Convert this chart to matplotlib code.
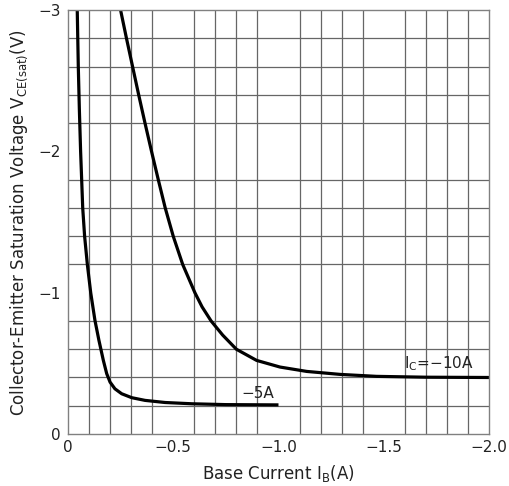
import matplotlib.pyplot as plt
import numpy as np

plt.rcParams['font.family'] = ['DejaVu Sans']
plt.rcParams['mathtext.fontset'] = 'dejavusans'

# Ic = -5A curve (base current A, Vce(sat) V)
ib_5a = [-0.044, -0.049, -0.054, -0.060, -0.070, -0.079, -0.092, -0.108, -0.128,
         -0.147, -0.168, -0.184, -0.200, -0.223, -0.255, -0.303, -0.366,
         -0.461, -0.588, -0.75, -1.0]
vce_5a = [-3.0, -2.6, -2.3, -2.0, -1.6, -1.4, -1.2, -1.0, -0.805,
          -0.663, -0.521, -0.427, -0.367, -0.320, -0.285, -0.257, -0.238,
          -0.223, -0.214, -0.208, -0.206]

# Ic = -10A curve
ib_10a = [-0.250, -0.278, -0.307, -0.336, -0.366, -0.397, -0.429, -0.462,
          -0.500, -0.545, -0.603, -0.637, -0.680, -0.735, -0.800, -0.896,
          -1.007, -1.134, -1.292, -1.466, -1.70, -2.0]
vce_10a = [-3.0, -2.8, -2.6, -2.4, -2.2, -2.0, -1.8, -1.6,
           -1.4, -1.2, -1.0, -0.9, -0.8, -0.7, -0.6, -0.521,
           -0.474, -0.443, -0.422, -0.408, -0.402, -0.400]

x_ticks = [0, -0.5, -1.0, -1.5, -2.0]
x_labels = ["0", "\u22120.5", "\u22121.0", "\u22121.5", "\u22122.0"]
y_ticks = [0, -1, -2, -3]
y_labels = ["0", "\u22121", "\u22122", "\u22123"]

fig = plt.figure(figsize=(5.1, 4.86), dpi=100)
ax = fig.add_axes([0.1333, 0.107, 0.8255, 0.872])

ax.set_xlim(0, -2.0)
ax.set_ylim(0, -3)

# grid every 0.1 A / 0.2 V
ax.set_xticks(np.arange(0, -2.01, -0.1), minor=True)
ax.set_yticks(np.arange(0, -3.01, -0.2), minor=True)
ax.grid(which='minor', color='#666666', linewidth=0.9)
ax.set_axisbelow(True)

ax.set_xticks(x_ticks)
ax.set_xticklabels(x_labels)
ax.set_yticks(y_ticks)
ax.set_yticklabels(y_labels)
ax.tick_params(which='both', length=0, labelsize=11, labelcolor='#222222')
ax.tick_params(axis='x', pad=4)
ax.tick_params(axis='y', pad=5)

for s in ax.spines.values():
    s.set_color('#808080')
    s.set_linewidth(1.0)

ax.plot(ib_5a, vce_5a, color='black', linewidth=2.3, solid_capstyle='butt')
ax.plot(ib_10a, vce_10a, color='black', linewidth=2.3, solid_capstyle='butt')

ax.text(-0.90, -0.29, "\u22125A", fontsize=11, ha='center', va='center', color='#222222')
ax.text(-1.76, -0.50, "I$_{\\mathrm{C}}$=\u221210A", fontsize=11, ha='center', va='center',
        color='#222222')

ax.set_xlabel("Base Current I$_{\\mathrm{B}}$(A)", fontsize=12, color='#222222', labelpad=6)
ax.set_ylabel("Collector-Emitter Saturation Voltage V$_{\\mathrm{CE(sat)}}$(V)", fontsize=12,
              color='#222222', labelpad=6)

fig.savefig("out.png", dpi=100)
